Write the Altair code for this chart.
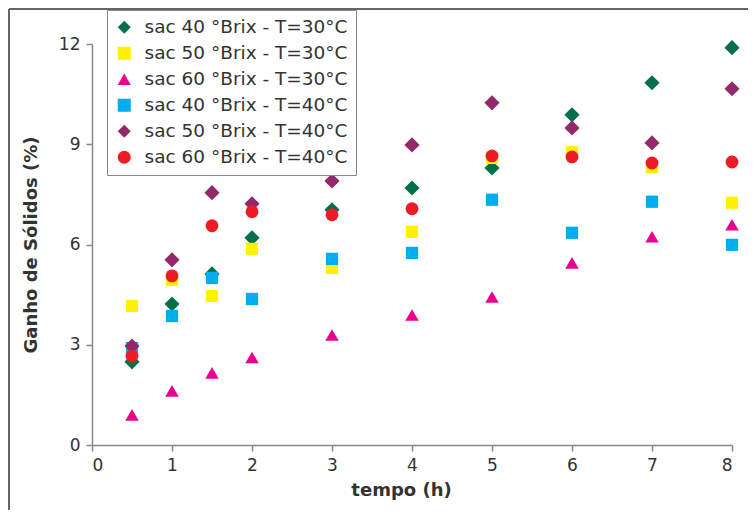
import altair as alt
import pandas as pd

tempo = [0.5, 1, 1.5, 2, 3, 4, 5, 6, 7, 8]

series_names = [
    "sac 40 °Brix - T=30°C",
    "sac 50 °Brix - T=30°C",
    "sac 60 °Brix - T=30°C",
    "sac 40 °Brix - T=40°C",
    "sac 50 °Brix - T=40°C",
    "sac 60 °Brix - T=40°C",
]

s40_30 = [2.49, 4.22, 5.12, 6.20, 7.04, 7.69, 8.29, 9.88, 10.84, 11.89]
s50_30 = [4.16, 4.94, 4.46, 5.87, 5.30, 6.38, 8.59, 8.77, 8.32, 7.25]
s60_30 = [0.90, 1.62, 2.16, 2.62, 3.29, 3.89, 4.43, 5.45, 6.23, 6.59]
s40_40 = [2.90, 3.86, 5.00, 4.37, 5.57, 5.75, 7.34, 6.35, 7.28, 5.99]
s50_40 = [2.96, 5.54, 7.55, 7.22, 7.90, 8.98, 10.24, 9.49, 9.04, 10.66]
s60_40 = [2.66, 5.06, 6.56, 6.98, 6.89, 7.07, 8.65, 8.62, 8.44, 8.47]

values = [s40_30, s50_30, s60_30, s40_40, s50_40, s60_40]

colors = ["#00704A", "#FFF200", "#EC008C", "#00AEEF", "#92296A", "#ED1C24"]
shapes = ["diamond", "square", "triangle-up", "square", "diamond", "circle"]
sizes = [230, 150, 180, 150, 230, 165]

W, H = 640, 401
FONT = "DejaVu Sans"

rows = []
for i, (name, vals) in enumerate(zip(series_names, values)):
    for t, v in zip(tempo, vals):
        rows.append({"serie": name, "ordem": i, "tempo": t, "ganho": v})
df = pd.DataFrame(rows)

x_enc = alt.X("tempo:Q", scale=alt.Scale(domain=[0, 8], nice=False),
              axis=alt.Axis(values=[0, 1, 2, 3, 4, 5, 6, 7, 8], title="tempo (h)",
                            titleX=309))
y_enc = alt.Y("ganho:Q", scale=alt.Scale(domain=[0, 12], nice=False),
              axis=alt.Axis(values=[0, 3, 6, 9, 12], title="Ganho de Sólidos (%)"))
color_enc = alt.Color("serie:N", scale=alt.Scale(domain=series_names, range=colors),
                      legend=alt.Legend(title=None, orient="none", legendX=15, legendY=-34))
shape_enc = alt.Shape("serie:N", scale=alt.Scale(domain=series_names, range=shapes))

layers = []
border_left = alt.Chart(df).mark_rule(color="#666666", strokeWidth=1.5).encode(
    x=alt.value(-83), y=alt.value(-35), y2=alt.value(H + 65)
)
border_top = alt.Chart(df).mark_rule(color="#666666", strokeWidth=1.5).encode(
    x=alt.value(-83), x2=alt.value(W + 16), y=alt.value(-35)
)
layers += [border_left, border_top]

for i, name in enumerate(series_names):
    layer = alt.Chart(df).transform_filter(
        alt.datum.ordem == i
    ).mark_point(filled=True, opacity=1, size=sizes[i]).encode(
        x=x_enc, y=y_enc, color=color_enc, shape=shape_enc
    )
    layers.append(layer)

chart = alt.layer(*layers).properties(
    width=W, height=H,
    autosize=alt.AutoSizeParams(type="none"),
    padding={"left": 84, "top": 36, "right": 16, "bottom": 65},
).configure_view(stroke=None).configure_axis(
    grid=False,
    domainColor="#888888",
    domainWidth=1.5,
    tickColor="#888888",
    tickWidth=1.5,
    tickSize=6,
    labelFont=FONT,
    labelFontSize=17,
    labelColor="#333333",
    labelPadding=6,
    titleFont=FONT,
    titleFontSize=18,
    titleFontWeight="bold",
    titleColor="#333333",
).configure_axisX(
    titlePadding=8,
).configure_axisY(
    titlePadding=18,
).configure_legend(
    fillColor="white",
    strokeColor="#888888",
    padding=8,
    labelFont=FONT,
    labelFontSize=18.5,
    labelColor="#333333",
    labelOffset=11,
    labelLimit=400,
    rowPadding=7,
    symbolSize=170,
    symbolStrokeWidth=0,
)

chart.save("out.html", embed_options={"renderer": "svg", "actions": False})
